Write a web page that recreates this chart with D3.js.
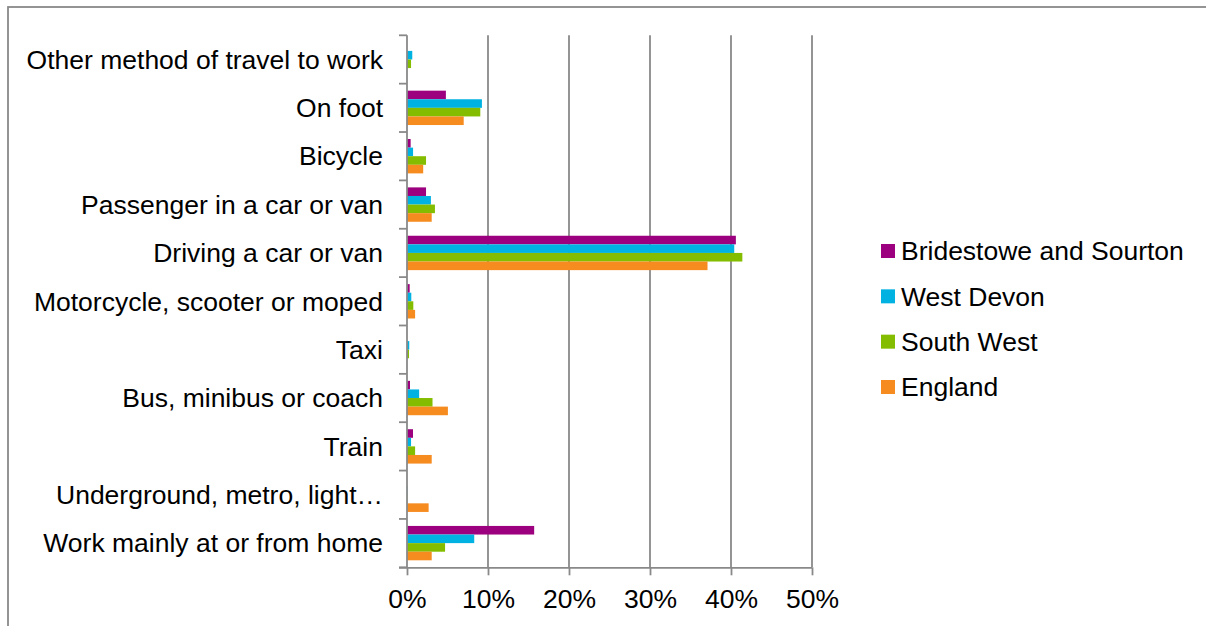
<!DOCTYPE html>
<html>
<head>
<meta charset="utf-8">
<script src="https://cdn.jsdelivr.net/npm/d3@7"></script>
<style>
  html, body { margin: 0; padding: 0; background: #fff; }
  svg { display: block; font-family: "Liberation Sans", Arial, sans-serif; }
</style>
</head>
<body>
<svg id="chart" width="1206" height="626"></svg>
<script>
// Method of travel to work, share of working residents (%)
const categories = [
  "Other method of travel to work",
  "On foot",
  "Bicycle",
  "Passenger in a car or van",
  "Driving a car or van",
  "Motorcycle, scooter or moped",
  "Taxi",
  "Bus, minibus or coach",
  "Train",
  "Underground, metro, light\u2026",
  "Work mainly at or from home"
];

const seriesNames = ["Bridestowe and Sourton", "West Devon", "South West", "England"];
const seriesColors = ["#9c007e", "#00b2e2", "#84bd00", "#f68b1f"];

const bridestowe = [0.0, 4.8, 0.45, 2.35, 40.6, 0.33, 0.0, 0.37, 0.74, 0.0, 15.7];
const westDevon  = [0.65, 9.25, 0.75, 2.95, 40.4, 0.53, 0.28, 1.5, 0.5, 0.05, 8.3];
const southWest  = [0.5, 9.05, 2.35, 3.45, 41.4, 0.78, 0.25, 3.15, 1.0, 0.05, 4.7];
const england    = [0.0, 7.0, 2.0, 3.05, 37.1, 1.0, 0.0, 5.05, 3.05, 2.67, 3.05];

const xTicks = [0, 10, 20, 30, 40, 50];

const seriesValues = [bridestowe, westDevon, southWest, england];

const svg = d3.select("#chart");
const gridColor = "#898989";
const fontSize = 26.5;

// outer chart frame (runs off the right and bottom edges)
svg.append("rect")
  .attr("x", 8).attr("y", 7)
  .attr("width", 1220).attr("height", 640)
  .attr("fill", "none")
  .attr("stroke", gridColor)
  .attr("stroke-width", 1.8);

const plot = { left: 407, right: 812, top: 35.3, bottom: 567.3 };

const x = d3.scaleLinear().domain([0, 50]).range([plot.left, plot.right]);
const y = d3.scaleBand().domain(categories).range([plot.top, plot.bottom]).padding(0);
const barPad = 7;
const ySeries = d3.scaleBand()
  .domain(seriesNames)
  .range([barPad, y.bandwidth() - barPad])
  .padding(0);

// vertical gridlines
svg.append("g")
  .selectAll("line")
  .data(xTicks.filter(d => d > 0))
  .join("line")
  .attr("x1", d => x(d)).attr("x2", d => x(d))
  .attr("y1", plot.top).attr("y2", plot.bottom)
  .attr("stroke", gridColor)
  .attr("stroke-width", 1.8);

// bars
const groups = svg.append("g")
  .selectAll("g")
  .data(categories)
  .join("g")
  .attr("transform", c => `translate(0,${y(c)})`);

groups.selectAll("rect")
  .data((c, i) => seriesNames.map((s, j) => ({ s, j, v: seriesValues[j][i] })))
  .join("rect")
  .attr("x", x(0))
  .attr("y", d => ySeries(d.s))
  .attr("width", d => x(d.v) - x(0))
  .attr("height", ySeries.bandwidth())
  .attr("fill", d => seriesColors[d.j]);

// x axis
const xAxis = svg.append("g")
  .attr("transform", `translate(0,${plot.bottom})`)
  .call(d3.axisBottom(x).tickValues(xTicks).tickSize(8).tickPadding(14).tickFormat(d => d + "%"));
xAxis.select(".domain").attr("stroke", gridColor).attr("stroke-width", 1.8)
  .attr("d", `M${plot.left - 8},0.5H${plot.right}`);
xAxis.selectAll(".tick line").attr("stroke", gridColor).attr("stroke-width", 1.8);
xAxis.selectAll(".tick text")
  .attr("fill", "#000")
  .attr("font-size", fontSize)
  .attr("font-family", "Liberation Sans, Arial, sans-serif");

// y axis line and category boundary ticks
const yAxis = svg.append("g");
yAxis.append("line")
  .attr("x1", plot.left).attr("x2", plot.left)
  .attr("y1", plot.top).attr("y2", plot.bottom)
  .attr("stroke", gridColor).attr("stroke-width", 1.8);
const boundaries = categories.map(c => y(c)).concat([y.range()[1]]);
yAxis.selectAll("line.tick")
  .data(boundaries)
  .join("line")
  .attr("class", "tick")
  .attr("x1", plot.left - 8).attr("x2", plot.left)
  .attr("y1", d => d).attr("y2", d => d)
  .attr("stroke", gridColor).attr("stroke-width", 1.8);

// category labels
yAxis.selectAll("text")
  .data(categories)
  .join("text")
  .attr("x", plot.left - 24)
  .attr("y", c => y(c) + y.bandwidth() / 2)
  .attr("dy", "0.35em")
  .attr("text-anchor", "end")
  .attr("font-size", fontSize)
  .attr("fill", "#000")
  .text(c => c);

// legend
const legend = svg.append("g").attr("transform", "translate(881,251)");
const legendRow = d3.scalePoint().domain(seriesNames).range([0, 136]);
const items = legend.selectAll("g")
  .data(seriesNames)
  .join("g")
  .attr("transform", d => `translate(0,${legendRow(d)})`);
items.append("rect")
  .attr("x", 0).attr("y", -7)
  .attr("width", 14).attr("height", 14)
  .attr("fill", (d, i) => seriesColors[i]);
items.append("text")
  .attr("x", 20).attr("y", 0)
  .attr("dy", "0.35em")
  .attr("font-size", fontSize)
  .attr("fill", "#000")
  .text(d => d);
</script>
</body>
</html>
